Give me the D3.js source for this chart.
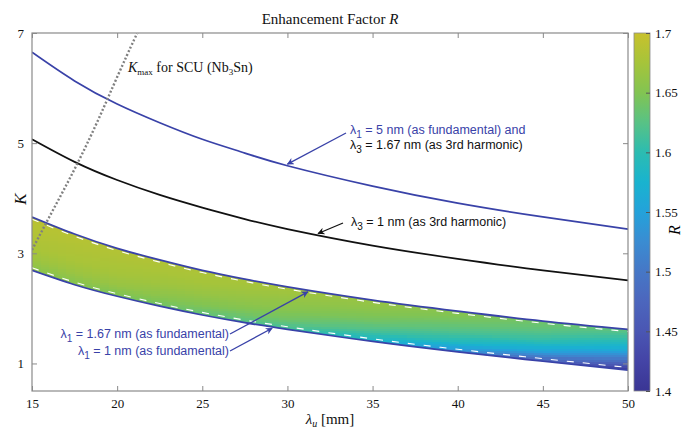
<!DOCTYPE html>
<html>
<head>
<meta charset="utf-8">
<script src="https://cdn.jsdelivr.net/npm/d3@7"></script>
<style>
body { margin: 0; background: #fff; }
svg { display: block; }
</style>
</head>
<body>
<svg width="698" height="429"></svg>
<script>
// undulator period [mm] and K for each resonance curve
const lambdaU = [15, 17.5, 20, 22.5, 25, 27.5, 30, 35, 40, 45, 50];
const k5nm   = [6.65, 6.13, 5.71, 5.37, 5.07, 4.82, 4.59, 4.22, 3.91, 3.66, 3.44];
const k3nm   = [5.07, 4.66, 4.33, 4.06, 3.83, 3.62, 3.44, 3.14, 2.90, 2.69, 2.51];
const k167nm = [3.66, 3.35, 3.09, 2.88, 2.69, 2.53, 2.39, 2.15, 1.95, 1.77, 1.62];
const k1nm   = [2.69, 2.43, 2.22, 2.04, 1.88, 1.74, 1.62, 1.40, 1.21, 1.04, 0.88];

// Kmax of the Nb3Sn SCU (dotted)
const kmaxLambda = [15, 16, 17, 18, 19, 20, 21, 21.2];
const kmaxK      = [3.06, 3.65, 4.23, 4.84, 5.50, 6.20, 6.88, 7.0];

// enhancement factor R across the band (0 = 1.67 nm edge, 1 = 1 nm edge)
const rLambda = [15, 20, 25, 30, 35, 40, 45, 50];
const rFrac = [0, 0.25, 0.5, 0.75, 1];
const rGrid = [
  [1.690, 1.685, 1.680, 1.670, 1.655],
  [1.685, 1.680, 1.675, 1.665, 1.645],
  [1.680, 1.675, 1.665, 1.650, 1.630],
  [1.675, 1.665, 1.655, 1.640, 1.610],
  [1.665, 1.655, 1.640, 1.615, 1.575],
  [1.655, 1.640, 1.620, 1.590, 1.520],
  [1.640, 1.625, 1.600, 1.550, 1.460],
  [1.630, 1.600, 1.560, 1.490, 1.410]
];

const xTicks = [15, 20, 25, 30, 35, 40, 45, 50];
const yTicks = [1, 3, 5, 7];
const cbTicks = [1.4, 1.45, 1.5, 1.55, 1.6, 1.65, 1.7];
const cbStops = [1.4, 1.425, 1.45, 1.475, 1.5, 1.525, 1.55, 1.575, 1.6, 1.625, 1.65, 1.675, 1.7];
const cbColors = ['#3a3594', '#4444a6', '#4a56b3', '#4c66bd', '#4677c6', '#3a8cd2', '#24a2da',
                  '#19b3cf', '#2cbcb1', '#58c285', '#82c452', '#a6c43a', '#c8c12c'];

const serif = '"Liberation Serif", "DejaVu Serif", serif';
const sans = '"Liberation Sans", Arial, sans-serif';
const blue = '#3942a8';
const axisGrey = '#8a8a8a';

const svg = d3.select('svg');
const x = d3.scaleLinear().domain([15, 50]).range([32, 628]);
const y = d3.scaleLinear().domain([0.5, 7]).range([391, 33]);
const color = d3.scaleLinear().domain(cbStops).range(cbColors).clamp(true);

const interp = (xs, ys, v) => {
  const i = Math.max(1, Math.min(xs.length - 1, d3.bisectLeft(xs, v)));
  const t = (v - xs[i - 1]) / (xs[i] - xs[i - 1]);
  return ys[i - 1] + t * (ys[i] - ys[i - 1]);
};
const rAt = (lu, t) => {
  const col = rFrac.map((f, j) => interp(rLambda, rGrid.map(r => r[j]), lu));
  return interp(rFrac, col, t);
};

const defs = svg.append('defs');

// clip for the coloured band
const band = lambdaU.map((l, i) => [l, k167nm[i], k1nm[i]]);
const area = d3.area()
  .x(d => x(d[0])).y0(d => y(d[2])).y1(d => y(d[1]))
  .curve(d3.curveNatural);
defs.append('clipPath').attr('id', 'bandClip')
  .append('path').attr('d', area(band));

defs.append('clipPath').attr('id', 'plotClip')
  .append('rect').attr('x', 32).attr('y', 33).attr('width', 596).attr('height', 358);

// field cells
const cells = [];
const dl = 0.5, dk = 0.04;
d3.range(15, 50, dl).forEach(l0 => {
  d3.range(0.8, 3.8, dk).forEach(k0 => {
    const lc = l0 + dl / 2, kc = k0 + dk / 2;
    const top = interp(lambdaU, k167nm, lc), bot = interp(lambdaU, k1nm, lc);
    const t = Math.max(0, Math.min(1, (top - kc) / (top - bot)));
    cells.push({ l0, k0, r: rAt(lc, t) });
  });
});

svg.append('g').attr('clip-path', 'url(#bandClip)')
  .selectAll('rect').data(cells).enter()
  .append('rect')
  .attr('x', d => x(d.l0))
  .attr('y', d => y(d.k0 + dk))
  .attr('width', x(15 + dl) - x(15) + 0.6)
  .attr('height', y(0) - y(dk) + 0.6)
  .attr('fill', d => color(d.r))
  .attr('shape-rendering', 'crispEdges');

const line = d3.line().x(d => x(d[0])).y(d => y(d[1])).curve(d3.curveNatural);
const zip = ks => lambdaU.map((l, i) => [l, ks[i]]);

const plot = svg.append('g').attr('clip-path', 'url(#plotClip)');

// white dashed edges inside band
plot.append('path').attr('d', line(zip(k167nm)))
  .attr('transform', 'translate(0,2.2)')
  .attr('fill', 'none').attr('stroke', '#fff').attr('stroke-width', 1.1)
  .attr('stroke-dasharray', '7,9');
plot.append('path').attr('d', line(zip(k1nm)))
  .attr('transform', 'translate(0,-2.6)')
  .attr('fill', 'none').attr('stroke', '#fff').attr('stroke-width', 1.1)
  .attr('stroke-dasharray', '7,9');

// curves
[[k5nm, blue], [k3nm, '#111'], [k167nm, blue], [k1nm, blue]].forEach(([ks, c]) => {
  plot.append('path').attr('d', line(zip(ks)))
    .attr('fill', 'none').attr('stroke', c).attr('stroke-width', 1.7);
});

// Kmax dotted
plot.append('path')
  .attr('d', line(kmaxLambda.map((l, i) => [l, kmaxK[i]])))
  .attr('fill', 'none').attr('stroke', '#808080').attr('stroke-width', 2.4)
  .attr('stroke-dasharray', '2,2');

// axes box + ticks
svg.append('rect').attr('x', 32).attr('y', 33).attr('width', 596).attr('height', 358)
  .attr('fill', 'none').attr('stroke', axisGrey).attr('stroke-width', 1.2);

const xAxisB = d3.axisBottom(x).tickValues(xTicks).tickSize(-5).tickPadding(8).tickFormat(d3.format('d'));
const xAxisT = d3.axisTop(x).tickValues(xTicks).tickSize(-5).tickFormat('');
const yAxisL = d3.axisLeft(y).tickValues(yTicks).tickSize(-5).tickPadding(8).tickFormat(d3.format('d'));
const yAxisR = d3.axisRight(y).tickValues(yTicks).tickSize(-5).tickFormat('');

svg.append('g').attr('transform', 'translate(0,391)').call(xAxisB);
svg.append('g').attr('transform', 'translate(0,33)').call(xAxisT);
svg.append('g').attr('transform', 'translate(32,0)').call(yAxisL);
svg.append('g').attr('transform', 'translate(628,0)').call(yAxisR);
svg.selectAll('.domain').remove();
svg.selectAll('.tick line').attr('stroke', axisGrey);
svg.selectAll('.tick text').attr('font-family', serif).attr('font-size', 13).attr('fill', '#111');

// colourbar
const cb = d3.scaleLinear().domain([1.4, 1.7]).range([391, 33]);
const grad = defs.append('linearGradient').attr('id', 'cbGrad')
  .attr('x1', 0).attr('y1', 1).attr('x2', 0).attr('y2', 0);
grad.selectAll('stop').data(cbStops).enter().append('stop')
  .attr('offset', d => (d - 1.4) / 0.3)
  .attr('stop-color', (d, i) => cbColors[i]);
svg.append('rect').attr('x', 634).attr('y', 33).attr('width', 16).attr('height', 358)
  .attr('fill', 'url(#cbGrad)').attr('stroke', axisGrey).attr('stroke-width', 0.8);
const cbAxis = d3.axisRight(cb).tickValues(cbTicks).tickSize(-4).tickPadding(5).tickFormat(d => String(d));
const cbG = svg.append('g').attr('transform', 'translate(650,0)').call(cbAxis);
cbG.select('.domain').remove();
cbG.selectAll('.tick line').attr('stroke', '#555');
cbG.selectAll('.tick text').attr('font-family', serif).attr('font-size', 13).attr('fill', '#111');

svg.append('text').attr('transform', 'translate(680,230) rotate(-90)')
  .attr('text-anchor', 'middle').attr('font-family', serif).attr('font-style', 'italic')
  .attr('font-size', 16).text('R');

// titles
const title = svg.append('text').attr('x', 330).attr('y', 24).attr('text-anchor', 'middle')
  .attr('font-family', serif).attr('font-size', 15).attr('fill', '#111');
title.append('tspan').text('Enhancement Factor ');
title.append('tspan').attr('font-style', 'italic').text('R');

const xl = svg.append('text').attr('x', 330).attr('y', 424).attr('text-anchor', 'middle')
  .attr('font-family', serif).attr('font-size', 15).attr('fill', '#111');
xl.append('tspan').attr('font-style', 'italic').text('λ');
xl.append('tspan').attr('font-style', 'italic').attr('font-size', 10).attr('dy', 3).text('u');
xl.append('tspan').attr('dy', -3).text(' [mm]');

svg.append('text').attr('transform', 'translate(26,199) rotate(-90)')
  .attr('text-anchor', 'middle').attr('font-family', serif).attr('font-style', 'italic')
  .attr('font-size', 17).attr('fill', '#111').text('K');

// Kmax label
const km = svg.append('text').attr('x', 128).attr('y', 72)
  .attr('font-family', serif).attr('font-size', 14).attr('fill', '#111');
km.append('tspan').attr('font-style', 'italic').text('K');
km.append('tspan').attr('font-size', 9).attr('dy', 3).text('max');
km.append('tspan').attr('dy', -3).text(' for SCU (Nb');
km.append('tspan').attr('font-size', 9).attr('dy', 3).text('3');
km.append('tspan').attr('dy', -3).text('Sn)');

// annotations
['blueHead', 'blackHead'].forEach((id, i) => {
  defs.append('marker').attr('id', id)
    .attr('viewBox', '0 0 10 10').attr('refX', 9).attr('refY', 5)
    .attr('markerWidth', 7).attr('markerHeight', 7).attr('orient', 'auto')
    .attr('markerUnits', 'userSpaceOnUse')
    .append('path').attr('d', 'M0,0 L10,5 L0,10 L3,5 Z')
    .attr('fill', i === 0 ? blue : '#111');
});

function lambdaLabel(xp, yp, sub, rest, fill, anchor) {
  const t = svg.append('text').attr('x', xp).attr('y', yp).attr('text-anchor', anchor || 'start')
    .attr('font-family', sans).attr('font-size', 12.5).attr('fill', fill);
  t.append('tspan').text('λ');
  t.append('tspan').attr('font-size', 10).attr('dy', 4).text(sub);
  t.append('tspan').attr('dy', -4).text(' ' + rest);
}
function arrow(x1, y1, tip, c, head) {
  svg.append('line').attr('x1', x1).attr('y1', y1)
    .attr('x2', x(tip[0])).attr('y2', y(tip[1]))
    .attr('stroke', c).attr('stroke-width', 1.3)
    .attr('marker-end', `url(#${head})`);
}

lambdaLabel(350, 134, '1', '= 5 nm (as fundamental) and', blue);
lambdaLabel(350, 149, '3', '= 1.67 nm (as 3rd harmonic)', '#111');
arrow(346, 133, [30, 4.62], blue, 'blueHead');

lambdaLabel(351, 226, '3', '= 1 nm (as 3rd harmonic)', '#111');
arrow(343, 223, [31.8, 3.36], '#111', 'blackHead');

lambdaLabel(229, 338, '1', '= 1.67 nm (as fundamental)', blue, 'end');
lambdaLabel(229, 355, '1', '= 1 nm (as fundamental)', blue, 'end');
arrow(230, 334, [31.2, 2.30], blue, 'blueHead');
arrow(230, 351, [29.1, 1.64], blue, 'blueHead');
</script>
</body>
</html>
